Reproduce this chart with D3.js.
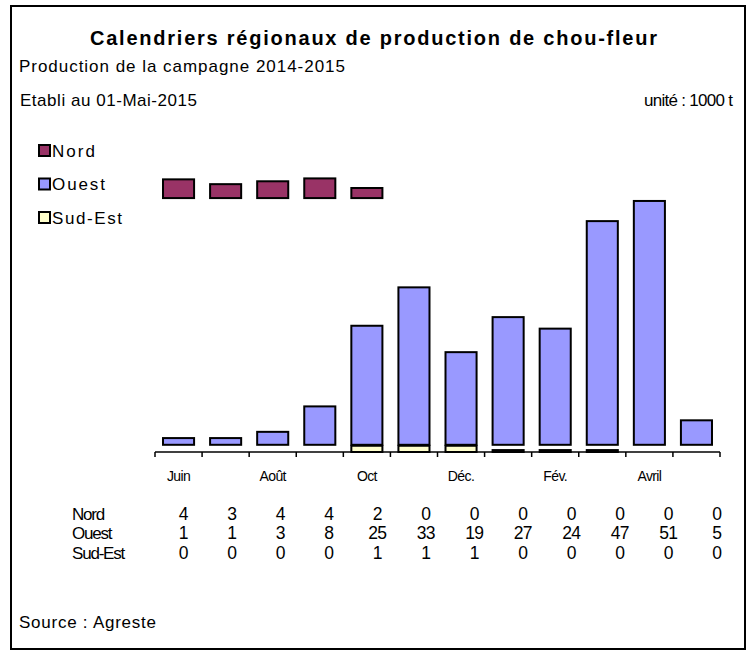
<!DOCTYPE html>
<html>
<head>
<meta charset="utf-8">
<script src="https://cdnjs.cloudflare.com/ajax/libs/d3/7.8.5/d3.min.js"></script>
<style>
  body { margin: 0; background: #fff; }
  text { font-family: "Liberation Sans", Arial, sans-serif; fill: #000; }
</style>
</head>
<body>
<div id="chart"></div>
<script>
// mois de la campagne
var mois = ["Juin", "Juil", "Août", "Sept", "Oct", "Nov", "Déc.", "Janv", "Fév.", "Mars", "Avril", "Mai"]
// etiquettes affichees sous l'axe (un mois sur deux)
var etiquettes = ["Juin", "", "Août", "", "Oct", "", "Déc.", "", "Fév.", "", "Avril", ""]
var series = ["Nord", "Ouest", "Sud-Est"]
var couleurs = ["#993366", "#9999ff", "#ffffcc"]

// valeurs en 1000 t
var nord = [3.9, 2.9, 3.5, 4.1, 2.1, 0, 0, 0, 0, 0, 0, 0]
var ouest = [1.4, 1.4, 2.7, 8.0, 24.8, 32.8, 19.3, 26.6, 24.2, 46.6, 50.8, 5.1]
var sudEst = [0, 0, 0, 0, 1.3, 1.3, 1.3, 0.4, 0.4, 0.4, 0, 0]

// niveaux des series "vides" qui separent les blocs dans le graphique d'origine
var baseOuest = 1.5
var baseNord = 52.9

var width = 755, height = 650

var svg = d3.select("#chart").append("svg")
    .attr("width", width)
    .attr("height", height)

// cadre
svg.append("rect")
    .attr("x", 11).attr("y", 6)
    .attr("width", 734).attr("height", 643)
    .attr("fill", "none")
    .attr("stroke", "#000")
    .attr("stroke-width", 2)

// textes d'en-tete, la largeur est calee sur l'original
function texte(x, y, t, taille, largeur, ancre) {
  return svg.append("text")
    .attr("x", x).attr("y", y)
    .attr("text-anchor", ancre || "start")
    .attr("textLength", largeur)
    .attr("lengthAdjust", "spacing")
    .style("font-size", taille)
    .text(t)
}

texte(90, 45, "Calendriers régionaux de production de chou-fleur", "20px", 567).style("font-weight", "bold")
texte(19, 72, "Production de la campagne 2014-2015", "17px", 326)
texte(20, 106, "Etabli au 01-Mai-2015", "17px", 177)
texte(644, 106, "unité : 1000 t", "17px", 89)

var x = d3.scaleBand()
    .domain(mois)
    .range([155, 720])
    .paddingInner(0.34)
    .paddingOuter(0.17)

var y = d3.scaleLinear()
    .domain([0, 60])
    .range([452, 164])

function visible(d) { return d > 0 ? null : "none" }

// Sud-Est en bas
svg.selectAll(".se")
    .data(sudEst)
    .enter()
    .append("rect")
    .attr("x", function (d, i) { return x(mois[i]) })
    .attr("width", x.bandwidth())
    .attr("y", function (d) { return y(d) })
    .attr("height", function (d) { return y(0) - y(d) })
    .attr("fill", couleurs[2])
    .attr("stroke", "#000")
    .attr("stroke-width", 2)
    .style("display", visible)

// Ouest
svg.selectAll(".ouest")
    .data(ouest)
    .enter()
    .append("rect")
    .attr("x", function (d, i) { return x(mois[i]) })
    .attr("width", x.bandwidth())
    .attr("y", function (d) { return y(baseOuest + d) })
    .attr("height", function (d) { return y(baseOuest) - y(baseOuest + d) })
    .attr("fill", couleurs[1])
    .attr("stroke", "#000")
    .attr("stroke-width", 2)

// Nord en haut
svg.selectAll(".nord")
    .data(nord)
    .enter()
    .append("rect")
    .attr("x", function (d, i) { return x(mois[i]) })
    .attr("width", x.bandwidth())
    .attr("y", function (d) { return y(baseNord + d) })
    .attr("height", function (d) { return y(baseNord) - y(baseNord + d) })
    .attr("fill", couleurs[0])
    .attr("stroke", "#000")
    .attr("stroke-width", 2)
    .style("display", visible)

// axe des mois
var axe = d3.axisBottom(x)
    .tickSize(0)
    .tickFormat(function (d, i) { return etiquettes[i] })

var gAxe = svg.append("g")
    .attr("transform", "translate(0," + y(0) + ")")
    .call(axe)
gAxe.select(".domain").remove()
gAxe.selectAll("text")
    .attr("y", 19)
    .style("font-size", "14px")
    .style("letter-spacing", "-0.6px")
    .style("font-family", "'Liberation Sans', Arial, sans-serif")

gAxe.append("line")
    .attr("x1", 155).attr("x2", 720)
    .attr("stroke", "#000")
    .attr("stroke-width", 1.5)

var bords = d3.range(mois.length + 1).map(function (i) { return 155 + i * (720 - 155) / mois.length })
gAxe.selectAll(".graduation")
    .data(bords)
    .enter()
    .append("line")
    .attr("x1", function (d) { return d })
    .attr("x2", function (d) { return d })
    .attr("y1", 0).attr("y2", 5)
    .attr("stroke", "#000")
    .attr("stroke-width", 1.5)

// legende
var largeursLeg = [43, 53, 70]
var legende = svg.selectAll(".leg")
    .data(series)
    .enter()
    .append("g")
    .attr("transform", function (d, i) { return "translate(39," + (145 + i * 33.5) + ")" })
legende.append("rect")
    .attr("width", 11).attr("height", 11)
    .attr("fill", function (d, i) { return couleurs[i] })
    .attr("stroke", "#000")
    .attr("stroke-width", 2)
legende.append("text")
    .attr("x", 13).attr("y", 11.5)
    .attr("textLength", function (d, i) { return largeursLeg[i] })
    .attr("lengthAdjust", "spacing")
    .style("font-size", "17px")
    .text(function (d) { return d })

// tableau des valeurs
var colonnes = d3.scaleBand()
    .domain(mois)
    .range([159, 741])
var lignes = [nord, ouest, sudEst]
var fmt = d3.format(".0f")

lignes.forEach(function (valeurs, j) {
    var yl = 519.5 + j * 19.5
    svg.append("text")
        .attr("x", 72).attr("y", yl)
        .style("font-size", "17px")
        .style("letter-spacing", "-1.2px")
        .text(series[j])
    svg.selectAll(".val" + j)
        .data(valeurs)
        .enter()
        .append("text")
        .attr("x", function (d, i) { return colonnes(mois[i]) + colonnes.bandwidth() / 2 })
        .attr("y", yl)
        .attr("text-anchor", "middle")
        .style("font-size", "17.5px")
        .style("letter-spacing", "-0.8px")
        .text(function (d) { return fmt(d) })
})

texte(19, 628, "Source : Agreste", "17px", 137)
</script>
</body>
</html>
